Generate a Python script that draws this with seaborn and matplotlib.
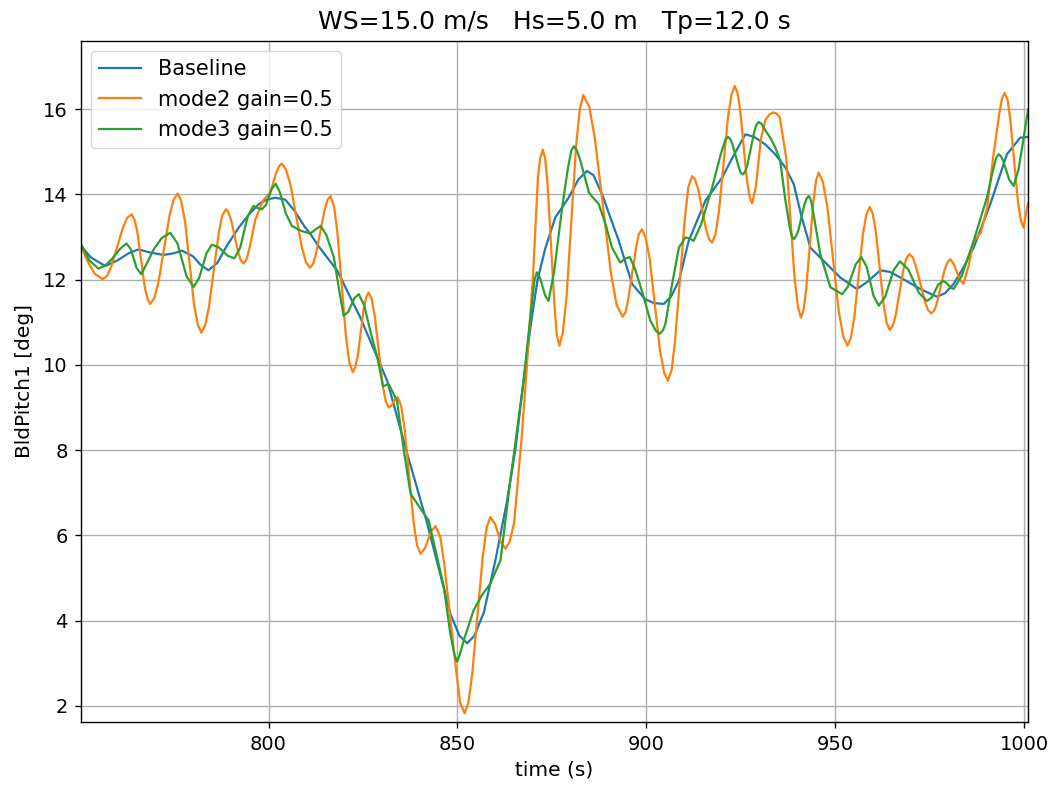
import numpy as np
import pandas as pd
import matplotlib
matplotlib.use("Agg")
import matplotlib.pyplot as plt
import seaborn as sns

# Blade pitch time histories (time in s, pitch in deg)
time_baseline = [
    750.4, 753.0, 756.8, 760.0, 763.0, 765.6, 768.5, 772.2, 775.0, 777.1,
    780.0, 782.0, 784.1, 786.5, 789.0, 792.1, 795.0, 797.4, 799.5, 801.8,
    804.4, 807.0, 809.5, 811.1, 813.2, 818.2, 824.3, 831.4, 836.7, 842.0,
    848.1, 850.5, 852.6, 854.5, 857.0, 860.0, 863.0, 865.3, 867.5, 869.5,
    871.2, 873.3, 875.9, 879.4, 882.0, 884.3, 886.0, 888.3, 890.5, 892.7,
    896.2, 899.7, 902.0, 904.6, 906.5, 908.6, 911.2, 915.6, 920.0, 923.0,
    926.2, 928.5, 931.5, 934.0, 936.8, 939.0, 941.0, 943.4, 946.9, 951.3,
    955.7, 958.5, 961.9, 964.5, 967.2, 972.5, 976.9, 979.0, 981.3, 984.0,
    986.6, 991.0, 995.4, 998.9, 1001.0,
]
pitch_baseline = [
    12.79, 12.52, 12.32, 12.45, 12.62, 12.71, 12.64, 12.58, 12.62, 12.68,
    12.55, 12.35, 12.22, 12.40, 12.80, 13.22, 13.55, 13.77, 13.88, 13.92,
    13.88, 13.60, 13.25, 13.07, 12.79, 12.21, 11.11, 9.63, 7.92, 6.28,
    4.17, 3.65, 3.47, 3.65, 4.20, 5.40, 6.75, 8.00, 9.63, 11.00,
    12.00, 12.75, 13.46, 13.92, 14.35, 14.55, 14.45, 14.00, 13.45, 12.91,
    11.90, 11.54, 11.45, 11.43, 11.60, 11.97, 12.91, 13.85, 14.39, 14.90,
    15.41, 15.35, 15.17, 14.95, 14.63, 14.24, 13.50, 12.75, 12.44, 12.05,
    11.78, 11.95, 12.22, 12.18, 12.05, 11.78, 11.60, 11.68, 11.90, 12.30,
    12.75, 13.77, 14.94, 15.33, 15.35,
]

time_mode2 = [
    750.4, 752.0, 754.0, 756.1, 757.3, 758.4, 761.5, 762.6, 763.8, 764.5,
    765.3, 767.2, 768.0, 768.7, 769.8, 770.9, 773.8, 774.9, 776.0, 776.9,
    777.9, 780.3, 781.3, 782.2, 783.2, 784.2, 786.8, 787.7, 788.7, 789.4,
    790.1, 792.0, 792.7, 793.4, 794.2, 795.0, 796.5, 798.5, 800.5, 802.0,
    802.8, 803.5, 804.6, 805.8, 808.8, 809.9, 811.0, 811.8, 812.6, 814.8,
    815.6, 816.4, 817.3, 818.2, 820.5, 821.4, 822.3, 822.9, 823.6, 825.2,
    825.9, 826.5, 827.3, 828.1, 830.2, 831.0, 831.8, 832.5, 833.5, 834.2,
    835.1, 836.0, 838.4, 839.3, 840.2, 841.4, 843.0, 844.2, 845.4, 846.5,
    849.7, 850.7, 851.9, 852.9, 853.9, 856.7, 857.7, 858.7, 859.9, 861.5,
    862.7, 863.8, 865.0, 867.0, 868.1, 870.0, 871.3, 871.9, 872.6, 873.2,
    873.8, 875.7, 876.3, 877.0, 877.9, 878.9, 881.4, 882.4, 883.3, 884.9,
    886.4, 890.6, 892.1, 893.7, 894.5, 895.2, 897.3, 898.0, 898.8, 899.8,
    900.9, 903.6, 904.7, 905.7, 906.7, 907.6, 910.2, 911.1, 912.1, 912.9,
    913.7, 915.8, 916.6, 917.4, 918.3, 919.2, 921.6, 922.5, 923.4, 924.1,
    924.8, 926.6, 927.3, 928.0, 929.0, 930.3, 931.5, 932.5, 933.5, 934.4,
    935.3, 937.0, 939.2, 940.1, 940.9, 941.6, 942.3, 944.2, 944.9, 945.6,
    946.7, 947.9, 950.9, 952.1, 953.2, 954.1, 955.0, 957.3, 958.2, 959.1,
    959.9, 960.7, 962.8, 963.6, 964.4, 965.2, 966.0, 968.0, 968.8, 969.6,
    970.5, 971.3, 973.7, 974.5, 975.4, 976.2, 976.9, 978.9, 979.7, 980.4,
    981.4, 982.8, 983.9, 985.2, 986.6, 988.5, 990.2, 991.8, 993.4, 994.1,
    994.8, 995.6, 996.3, 998.3, 999.1, 999.8, 1001.0,
]
pitch_mode2 = [
    12.80, 12.45, 12.14, 12.01, 12.09, 12.31, 13.23, 13.45, 13.53, 13.42,
    13.11, 11.85, 11.54, 11.43, 11.57, 11.95, 13.50, 13.88, 14.02, 13.84,
    13.37, 11.41, 10.94, 10.76, 10.92, 11.34, 13.07, 13.49, 13.65, 13.58,
    13.40, 12.63, 12.45, 12.38, 12.48, 12.75, 13.40, 13.85, 14.05, 14.50,
    14.66, 14.72, 14.59, 14.23, 12.77, 12.41, 12.28, 12.37, 12.62, 13.62,
    13.87, 13.96, 13.74, 13.13, 10.66, 10.05, 9.83, 9.93, 10.20, 11.33,
    11.60, 11.70, 11.55, 11.16, 9.54, 9.15, 9.00, 9.05, 9.19, 9.24,
    9.04, 8.51, 6.30, 5.77, 5.57, 5.70, 6.09, 6.22, 5.98, 5.34,
    2.80, 2.07, 1.83, 2.08, 2.75, 5.51, 6.18, 6.43, 6.28, 5.84,
    5.69, 5.85, 6.30, 8.30, 9.63, 12.10, 14.40, 14.85, 15.05, 14.85,
    14.30, 11.36, 10.70, 10.45, 10.77, 11.63, 15.15, 16.01, 16.33, 16.05,
    15.29, 12.17, 11.41, 11.13, 11.24, 11.54, 12.77, 13.07, 13.18, 12.99,
    12.47, 10.34, 9.82, 9.63, 9.89, 10.59, 13.47, 14.17, 14.43, 14.35,
    14.12, 13.18, 12.95, 12.87, 13.07, 13.60, 15.81, 16.34, 16.54, 16.39,
    15.99, 14.34, 13.94, 13.79, 14.20, 15.30, 15.75, 15.87, 15.92, 15.90,
    15.80, 14.86, 12.05, 11.36, 11.11, 11.29, 11.79, 13.83, 14.33, 14.51,
    14.29, 13.70, 11.26, 10.67, 10.45, 10.63, 11.10, 13.06, 13.53, 13.71,
    13.55, 13.13, 11.40, 10.98, 10.82, 10.92, 11.18, 12.24, 12.50, 12.60,
    12.52, 12.32, 11.49, 11.29, 11.21, 11.28, 11.46, 12.23, 12.41, 12.48,
    12.36, 12.02, 11.90, 12.30, 12.90, 13.10, 13.70, 14.90, 15.90, 16.25,
    16.38, 16.21, 15.75, 13.85, 13.39, 13.22, 13.80,
]

time_mode3 = [
    750.4, 752.6, 755.0, 756.8, 758.5, 760.7, 762.4, 763.6, 765.1, 766.3,
    767.8, 769.6, 771.8, 774.0, 775.9, 778.3, 780.2, 781.6, 783.6, 785.0,
    786.8, 789.2, 791.0, 792.5, 794.5, 796.0, 797.1, 798.2, 799.3, 800.8,
    801.9, 803.0, 804.6, 806.2, 808.5, 811.0, 812.5, 813.8, 815.3, 817.3,
    818.7, 819.9, 821.1, 822.7, 823.9, 825.3, 827.2, 828.8, 830.3, 831.8,
    834.0, 835.8, 837.6, 840.2, 842.4, 846.4, 848.1, 849.2, 849.9, 850.6,
    851.7, 854.3, 856.5, 858.7, 861.4, 864.0, 867.5, 869.5, 870.4, 871.0,
    871.9, 873.2, 874.1, 875.6, 877.7, 879.2, 880.1, 880.8, 881.6, 882.5,
    884.8, 887.4, 889.2, 890.9, 893.1, 894.3, 895.6, 897.0, 898.8, 901.0,
    902.5, 903.5, 904.3, 905.0, 906.8, 908.6, 910.3, 911.4, 912.5, 914.5,
    917.4, 919.7, 920.9, 921.6, 922.2, 922.8, 924.4, 925.0, 925.6, 926.2,
    926.8, 928.5, 929.1, 929.7, 930.5, 931.5, 933.0, 934.1, 935.4, 936.8,
    938.0, 938.5, 939.0, 939.6, 940.2, 941.8, 942.5, 943.0, 943.6, 944.3,
    946.0, 948.7, 951.8, 953.3, 955.4, 956.9, 958.3, 960.1, 961.5, 963.2,
    965.4, 967.1, 969.3, 972.1, 974.3, 975.6, 977.2, 978.5, 979.3, 980.5,
    981.3, 983.5, 986.6, 990.1, 991.8, 992.6, 993.2, 993.8, 994.4, 996.0,
    997.2, 998.5, 999.8, 1001.0,
]
pitch_mode3 = [
    12.83, 12.45, 12.26, 12.33, 12.48, 12.72, 12.85, 12.71, 12.27, 12.13,
    12.38, 12.71, 12.98, 13.10, 12.85, 12.08, 11.83, 12.03, 12.62, 12.82,
    12.76, 12.56, 12.50, 12.75, 13.48, 13.73, 13.68, 13.65, 13.75, 14.12,
    14.25, 14.05, 13.55, 13.26, 13.15, 13.08, 13.18, 13.26, 13.05, 12.52,
    11.75, 11.15, 11.25, 11.56, 11.66, 11.40, 10.70, 10.18, 9.50, 9.55,
    9.16, 8.00, 6.98, 6.63, 6.35, 4.79, 3.70, 3.20, 3.04, 3.20,
    3.55, 4.25, 4.60, 4.87, 5.42, 7.29, 9.63, 11.30, 12.00, 12.17,
    12.03, 11.63, 11.50, 12.20, 13.69, 14.60, 15.02, 15.13, 15.03, 14.80,
    14.04, 13.77, 13.30, 12.75, 12.40, 12.49, 12.53, 12.25, 11.74, 11.05,
    10.80, 10.73, 10.80, 10.95, 11.90, 12.75, 12.99, 12.97, 12.91, 13.30,
    14.16, 14.95, 15.28, 15.35, 15.30, 15.17, 14.65, 14.50, 14.47, 14.55,
    14.72, 15.45, 15.63, 15.70, 15.65, 15.50, 15.30, 15.10, 14.80, 13.85,
    13.20, 13.02, 12.95, 13.02, 13.15, 13.76, 13.92, 13.96, 13.85, 13.50,
    12.60, 11.82, 11.66, 11.83, 12.36, 12.53, 12.30, 11.62, 11.39, 11.60,
    12.22, 12.43, 12.24, 11.69, 11.50, 11.59, 11.88, 11.97, 11.93, 11.82,
    11.78, 12.10, 12.91, 13.92, 14.60, 14.86, 14.94, 14.90, 14.79, 14.35,
    14.20, 14.60, 15.30, 15.99,
]

series_names = ["Baseline", "mode2 gain=0.5", "mode3 gain=0.5"]
series_colors = ["#1f77b4", "#ff7f0e", "#2ca02c"]

frames = []
for name, t, p in zip(series_names,
                      [time_baseline, time_mode2, time_mode3],
                      [pitch_baseline, pitch_mode2, pitch_mode3]):
    frames.append(pd.DataFrame({"time": t, "pitch": p, "case": name}))
df = pd.concat(frames, ignore_index=True)

plt.rcParams["font.family"] = ["DejaVu Sans"]
fig = plt.figure(figsize=(10.55, 7.85), dpi=100)
ax = fig.add_axes([0.0765, 0.0806, 0.8976, 0.8678])

sns.lineplot(data=df, x="time", y="pitch", hue="case", hue_order=series_names,
             palette=series_colors, estimator=None, sort=True, linewidth=1.6,
             ax=ax)

ax.set_xlim(750.3, 1000.9)
ax.set_ylim(1.63, 17.61)
ax.set_yticks([2, 4, 6, 8, 10, 12, 14, 16])
ax.set_xticks([800, 850, 900, 950, 1000])
ax.grid(True, color="#b0b0b0", linewidth=1.0)
ax.tick_params(labelsize=14, length=4.5, width=1.0, pad=5)
for spine in ax.spines.values():
    spine.set_linewidth(1.0)
ax.set_xlabel("time (s)", fontsize=14.5, labelpad=5)
ax.set_ylabel("BldPitch1 [deg]", fontsize=14.5, labelpad=6)
ax.set_title("WS=15.0 m/s   Hs=5.0 m   Tp=12.0 s", fontsize=18, pad=8)
ax.legend(loc="upper left", fontsize=15)

fig.savefig("out.png", dpi=100)
